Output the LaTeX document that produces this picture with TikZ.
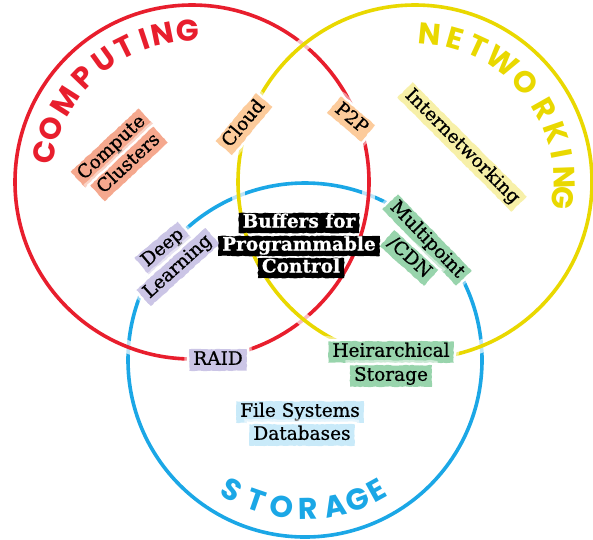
\documentclass[tikz,border=0pt]{standalone}
\usepackage{fontspec}
\usetikzlibrary{decorations.pathmorphing}
\newfontfamily\headfont{Poppins}
\newfontfamily\tagfont{DejaVu Serif}[FakeBold=0.8]
\definecolor{compred}{RGB}{232, 30, 45}
\definecolor{netyellow}{RGB}{233, 216, 0}
\definecolor{storeblue}{RGB}{27, 167, 230}
\definecolor{salmon}{RGB}{245, 168, 142}
\definecolor{peach}{RGB}{252, 203, 155}
\definecolor{paleyellow}{RGB}{247, 240, 168}
\definecolor{lavender}{RGB}{203, 197, 230}
\definecolor{mint}{RGB}{152, 212, 172}
\definecolor{skyblue}{RGB}{201, 234, 249}

\tikzset{
  ring/.style={line width=3.6pt, preaction={draw=white, line width=13pt, draw opacity=0.7}},
  arcletter/.style={font=\headfont\bfseries\fontsize{30}{30}\selectfont, inner sep=0pt},
  tag/.style={fill=#1, text=black, font=\tagfont\fontsize{18.5}{18.5}\selectfont,
    text height=13.5pt, text depth=4pt, inner xsep=4pt, inner ysep=2pt,
    decorate, decoration={random steps, segment length=2.5pt, amplitude=0.4pt},
    preaction={draw=white, line width=10pt, draw opacity=0.5},
    preaction={draw=white, line width=5pt}},
  blacktag/.style={fill=black, text=white, font=\tagfont\bfseries\fontsize{18.5}{18.5}\selectfont,
    text height=13pt, text depth=4pt, inner xsep=4pt, inner ysep=1.5pt,
    decorate, decoration={random steps, segment length=2.5pt, amplitude=0.5pt}}
}

\begin{document}
\begin{tikzpicture}[x=1pt, y=1pt]
  \useasboundingbox (0,0) rectangle (593,-539);
  \coordinate (cc) at (192,-182);
  \coordinate (nc) at (415,-182);
  \coordinate (sc) at (305,-360);

  \draw[ring, storeblue] (sc) circle[radius=177];
  \draw[ring, compred] (cc) circle[radius=177];
  \draw[ring, netyellow] (nc) circle[radius=177];

  \foreach \ch/\a [count=\i] in {C/168.6, O/159.2, M/147.6, P/136.1, U/125.7, T/116.4, I/108.3, N/101.4, G/91.5}
    \node[arcletter, text=compred, rotate=\a-90] (comp\i) at ([shift={(\a:151)}]cc) {\ch};
  \foreach \ch/\a [count=\i] in {N/84.3, E/74.3, T/65.2, W/54.2, O/42.2, R/29.5, K/19.3, I/10.9, N/1.9, G/-6.0}
    \node[arcletter, text=netyellow, rotate=\a-90] (net\i) at ([shift={(\a:149)}]nc) {\ch};
  \foreach \ch/\a [count=\i] in {S/-119.6, T/-109, O/-98.8, R/-88.9, A/-78.3, G/-69.2, E/-61.1}
    \node[arcletter, text=storeblue, rotate=\a+90] (store\i) at ([shift={(\a:149)}]sc) {\ch};

  \node[tag=salmon, rotate=43] (compute) at (112,-148) {Compute};
  \node[tag=salmon, rotate=43] (clusters) at (129,-164) {Clusters};
  \node[tag=peach, rotate=50] (cloud) at (244,-124) {Cloud};
  \node[tag=peach, rotate=-40] (p2p) at (351,-119) {P2P};
  \node[tag=paleyellow, rotate=-45] (internet) at (462,-147) {Internetworking};
  \node[tag=lavender, rotate=40] (deep) at (163,-248) {Deep};
  \node[tag=lavender, rotate=42] (learning) at (178,-267) {Learning};
  \node[tag=mint, rotate=-46] (multipoint) at (427,-240) {Multipoint};
  \node[tag=mint, rotate=-42] (cdn) at (409,-258) {/CDN};
  \node[tag=lavender] (raid) at (218,-360) {RAID};
  \node[tag=mint] (heir) at (391,-352) {Heirarchical};
  \node[tag=mint] (storage) at (391,-376) {Storage};
  \node[tag=skyblue] (filesys) at (300,-412) {File Systems};
  \node[tag=skyblue] (databases) at (302,-435) {Databases};

  \node[blacktag] (buffers) at (299,-223) {Buffers for};
  \node[blacktag] (programmable) at (299,-246) {Programmable};
  \node[blacktag] (control) at (301,-268) {Control};
\end{tikzpicture}
\end{document}
